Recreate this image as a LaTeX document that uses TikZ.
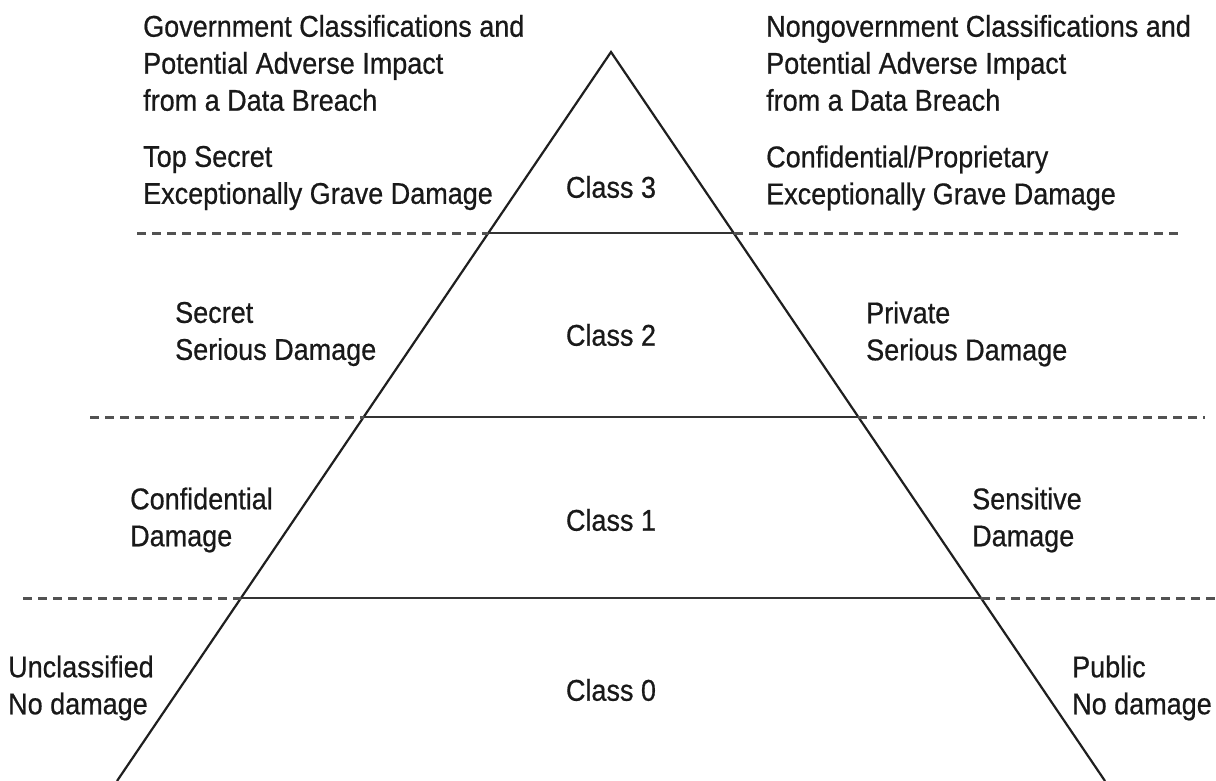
\documentclass[tikz,border=0pt]{standalone}
\usepackage{fontspec}
\setmainfont{Liberation Sans}[FakeStretch=0.9,FakeBold=0.6]
\begin{document}
\begin{tikzpicture}[x=1pt,y=-1pt,
  lbl/.style={font=\fontsize{30}{37}\selectfont, text=black!90, inner sep=0pt, align=left, anchor=west},
  cls/.style={font=\fontsize{30}{37}\selectfont, text=black!90, inner sep=0pt, anchor=center},
  edge/.style={draw=black!88, line width=2.2pt},
  level/.style={draw=black!80, line width=2.4pt},
  guide/.style={draw=black!68, line width=3pt, dash pattern=on 9pt off 6pt}]
\useasboundingbox[fill=white] (0,0) rectangle (1216,781);
% pyramid
\coordinate (A) at (611,52);
\coordinate (BL) at (117,781);
\coordinate (BR) at (1105,781);
\draw[edge] (BL) -- (A) -- (BR);
% level crossings
\coordinate (L1) at (488,233); \coordinate (R1) at (734,233);
\coordinate (L2) at (364,417); \coordinate (R2) at (858,417);
\coordinate (L3) at (241,598); \coordinate (R3) at (981,598);
% dashed guide ends
\coordinate (G1l) at (137,233); \coordinate (G1r) at (1183,233);
\coordinate (G2l) at (90,417);  \coordinate (G2r) at (1205,417);
\coordinate (G3l) at (23,598);  \coordinate (G3r) at (1216,598);
\draw[guide] (G1l) -- (L1); \draw[guide] (R1) -- (G1r);
\draw[guide] (G2l) -- (L2); \draw[guide] (R2) -- (G2r);
\draw[guide] (G3l) -- (L3); \draw[guide] (R3) -- (G3r);
\draw[level] (L1) -- (R1);
\draw[level] (L2) -- (R2);
\draw[level] (L3) -- (R3);
% class labels
\node[cls] (c3) at (611,187) {Class 3};
\node[cls] (c2) at (611,335) {Class 2};
\node[cls] (c1) at (611,520) {Class 1};
\node[cls] (c0) at (611,690) {Class 0};
% left side
\node[lbl] (gh) at (143,63) {Government Classifications and\\Potential Adverse Impact\\from a Data Breach};
\node[lbl] (g3) at (143,178) {Top Secret\\Exceptionally Grave Damage};
\node[lbl] (g2) at (175,334) {Secret\\Serious Damage};
\node[lbl] (g1) at (130,520) {Confidential\\Damage};
\node[lbl] (g0) at (8,688) {Unclassified\\No damage};
% right side
\node[lbl] (nh) at (766,63) {Nongovernment Classifications and\\Potential Adverse Impact\\from a Data Breach};
\node[lbl] (n3) at (766,178) {Confidential/Proprietary\\Exceptionally Grave Damage};
\node[lbl] (n2) at (866,334) {Private\\Serious Damage};
\node[lbl] (n1) at (972,520) {Sensitive\\Damage};
\node[lbl] (n0) at (1072,688) {Public\\No damage};
\end{tikzpicture}
\end{document}
